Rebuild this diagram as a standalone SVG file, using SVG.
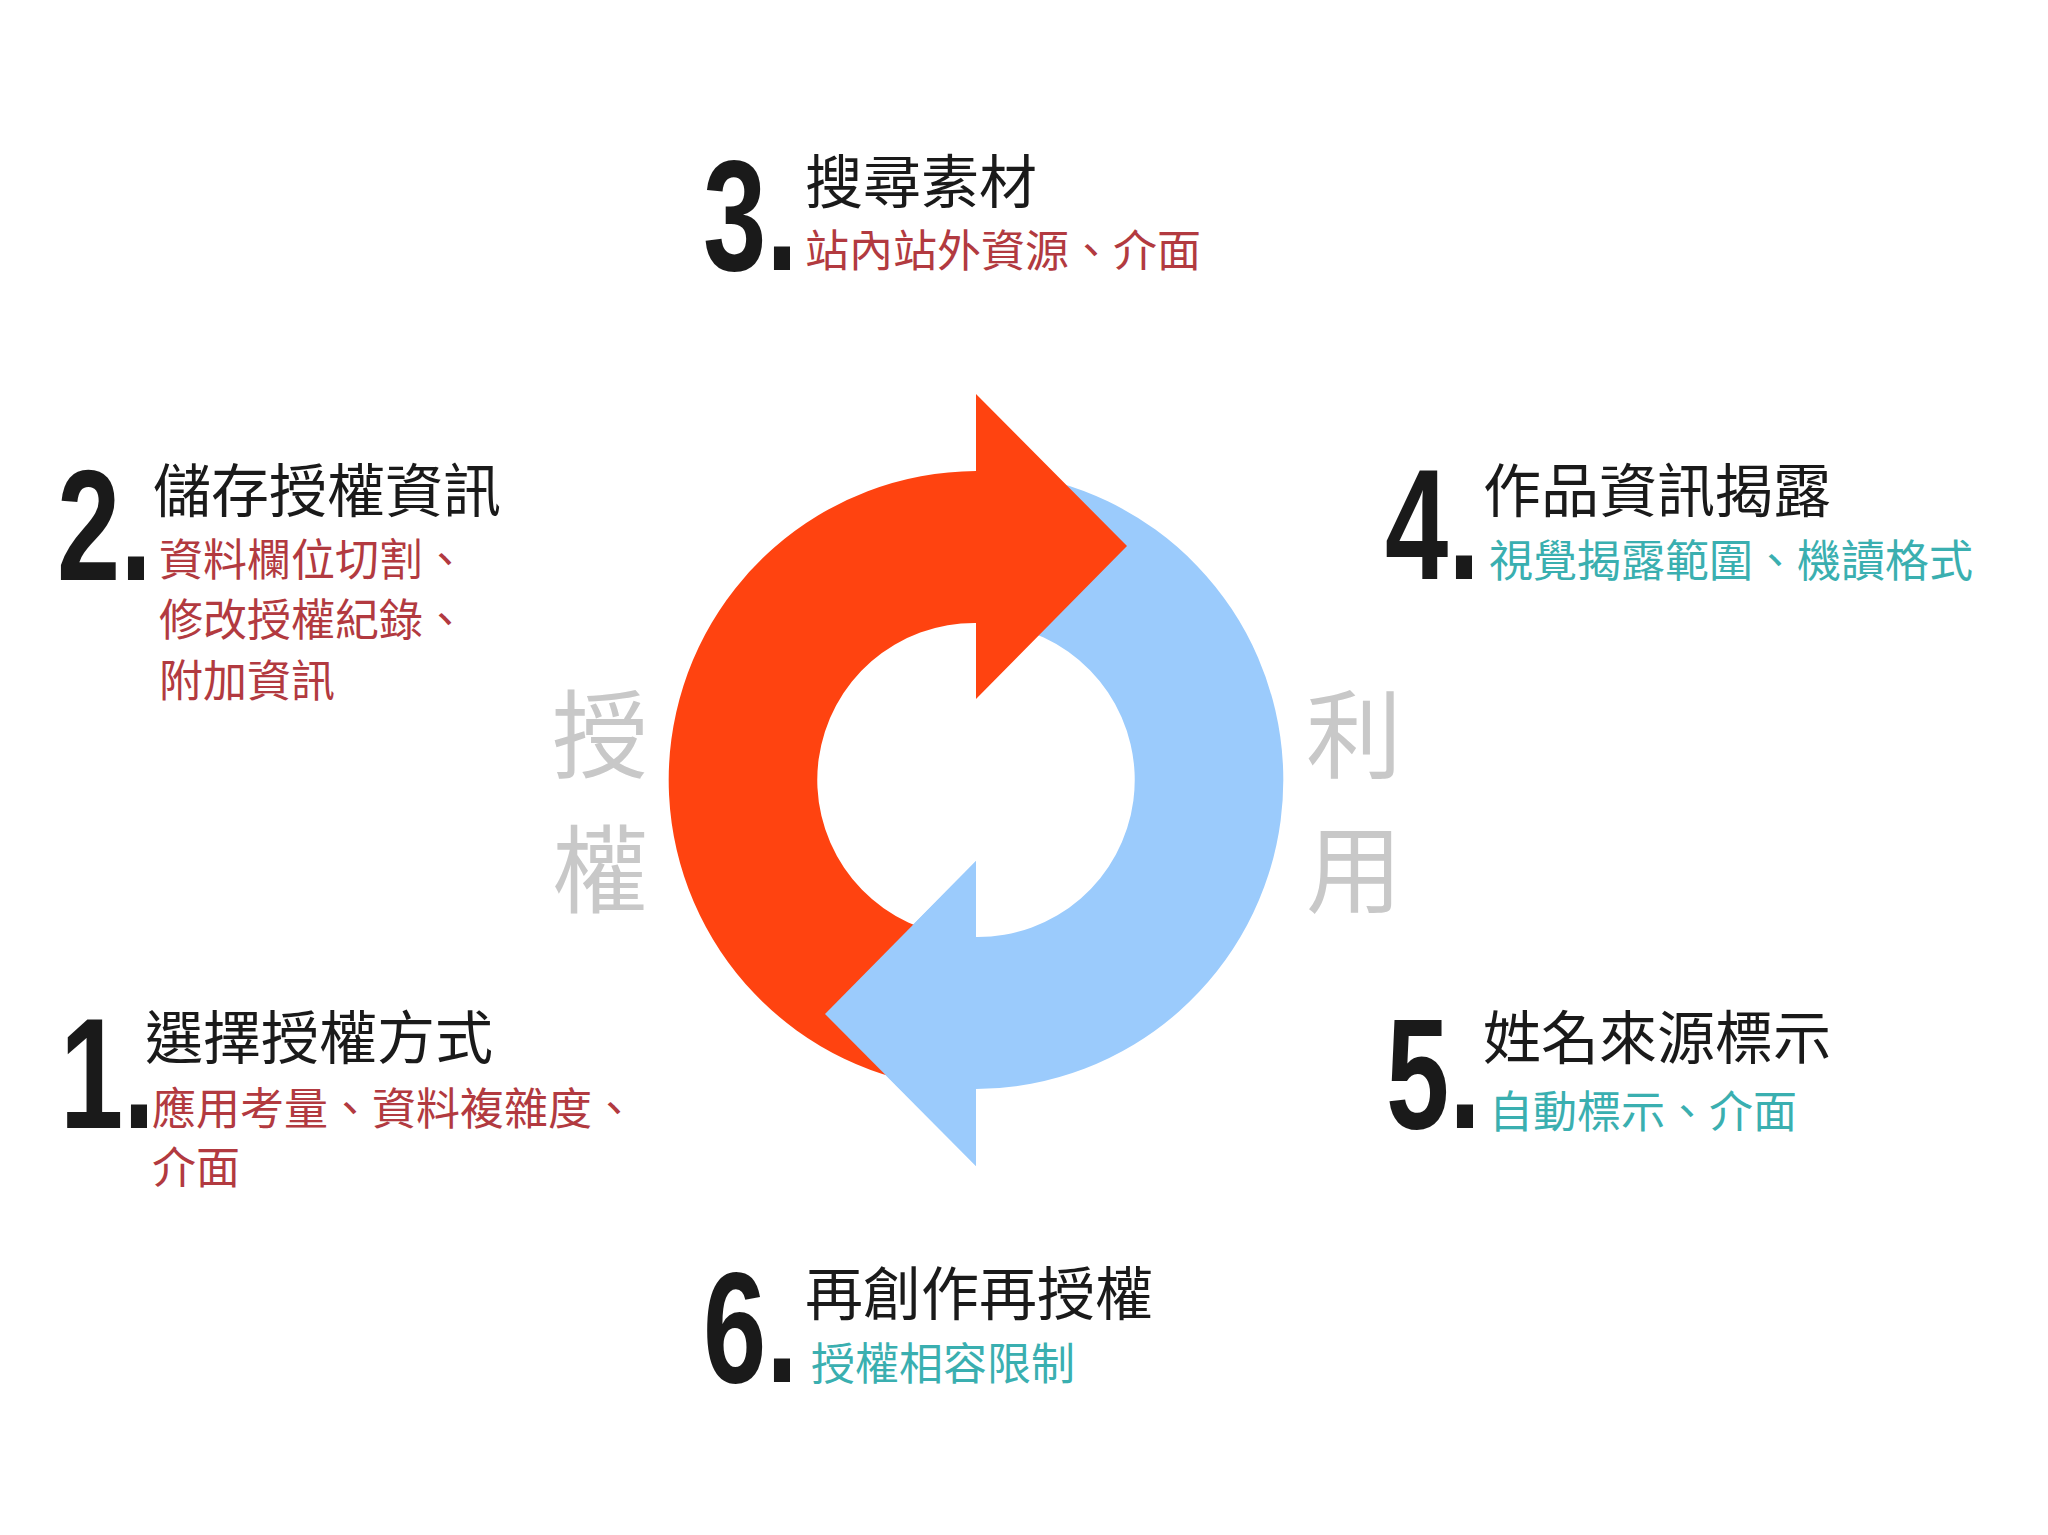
<svg xmlns="http://www.w3.org/2000/svg" width="2048" height="1535" viewBox="0 0 2048 1535">
<style>
.num{font-family:"Liberation Sans",Arial,sans-serif;font-weight:700;font-size:158px;fill:#1a1a1a}
.t{font-family:"Noto Sans CJK TC","Noto Sans CJK SC",sans-serif;font-size:58px;fill:#1a1a1a}
.r{font-family:"Noto Sans CJK TC","Noto Sans CJK SC",sans-serif;font-size:44px;fill:#B23A40}
.g{font-family:"Noto Sans CJK TC","Noto Sans CJK SC",sans-serif;font-size:44px;fill:#3AAFB0}
.big{font-family:"Noto Sans CJK TC","Noto Sans CJK SC",sans-serif;font-size:96px;fill:#C8C8C8}
</style>
<defs>
<path id="arr" d="M896,1078 A309,309 0 0 1 976,471 L976,394 L1127,546 L976,699 L976,623 A157,157 0 0 0 935,932 Z"/>
</defs>
<rect width="2048" height="1535" fill="#ffffff"/>
<g id="cycle">
<use href="#arr" fill="#9BCBFC" transform="rotate(180 976 780)"/>
<use href="#arr" fill="#FF4310"/>
<path d="M976,1166 L825,1014 L976,861 Z" fill="#9BCBFC"/>
</g>
<g id="labels">
<text class="big" x="552" y="770">授</text>
<text class="big" x="552" y="905">權</text>
<text class="big" x="1306" y="770">利</text>
<text class="big" x="1306" y="905">用</text>
</g>
<g id="step3">
<text class="num" transform="translate(703,270) scale(0.72,1)">3.</text>
<text class="t" x="805" y="203">搜尋素材</text>
<text class="r" x="805" y="267">站內站外資源、介面</text>
</g>
<g id="step2">
<text class="num" transform="translate(57,580) scale(0.72,1)">2.</text>
<text class="t" x="153" y="512">儲存授權資訊</text>
<text class="r" x="159" y="576">資料欄位切割、</text>
<text class="r" x="159" y="636">修改授權紀錄、</text>
<text class="r" x="159" y="697">附加資訊</text>
</g>
<g id="step4">
<text class="num" transform="translate(1385,579) scale(0.72,1)">4.</text>
<text class="t" x="1483" y="512">作品資訊揭露</text>
<text class="g" x="1489" y="577">視覺揭露範圍、機讀格式</text>
</g>
<g id="step1">
<text class="num" transform="translate(60,1128) scale(0.72,1)">1.</text>
<text class="t" x="145" y="1059">選擇授權方式</text>
<text class="r" x="152" y="1125">應用考量、資料複雜度、</text>
<text class="r" x="152" y="1184">介面</text>
</g>
<g id="step5">
<text class="num" transform="translate(1386,1128) scale(0.72,1)">5.</text>
<text class="t" x="1483" y="1059">姓名來源標示</text>
<text class="g" x="1489" y="1128">自動標示、介面</text>
</g>
<g id="step6">
<text class="num" transform="translate(703,1382) scale(0.72,1)">6.</text>
<text class="t" x="805" y="1315">再創作再授權</text>
<text class="g" x="811" y="1380">授權相容限制</text>
</g>
</svg>
